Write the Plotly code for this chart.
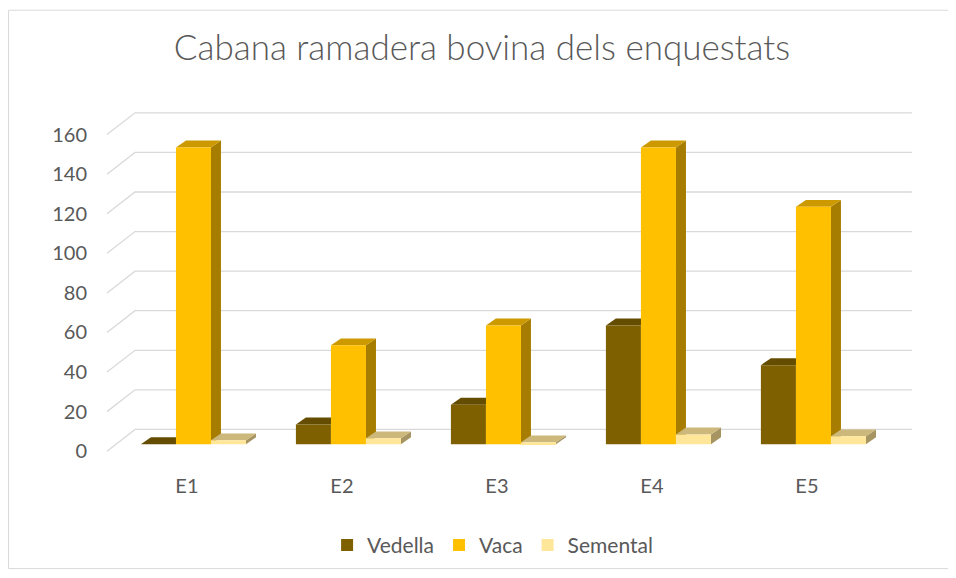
import plotly.graph_objects as go

# data
categories = ["E1", "E2", "E3", "E4", "E5"]
series_names = ["Vedella", "Vaca", "Semental"]
vedella = [0, 10, 20, 60, 40]
vaca = [150, 50, 60, 150, 120]
semental = [2, 3, 1, 5, 4]
y_ticks = [0, 20, 40, 60, 80, 100, 120, 140, 160]

values = [vedella, vaca, semental]
front_cols = ["#7F6000", "#FFC000", "#FFE699"]
top_cols = ["#644C00", "#CC9A00", "#CCB87A"]
side_cols = ["#513E00", "#A67D00", "#A69563"]

# fake 3D geometry (category units on x, value units on y)
bar_w = 0.226
offsets = [-0.297, -0.071, 0.155]   # left edge of each series relative to category
dx, dy = 0.0645, 3.5                 # bar depth projection
floor_back, floor_front = 7.5, -3.5  # back wall / front edge of the floor
grid_x = (-0.516, -0.335, 4.677)

fig = go.Figure()
shapes = []

# gridlines drawn on the back wall with the slanted side-wall segment
for v in y_ticks:
    shapes.append(dict(
        type="path", xref="x", yref="y", layer="below",
        path=f"M {grid_x[0]} {v + floor_front} L {grid_x[1]} {v + floor_back} L {grid_x[2]} {v + floor_back}",
        line=dict(color="#D9D9D9", width=1.3),
    ))

for s, name in enumerate(series_names):
    fig.add_trace(go.Bar(
        x=list(range(len(categories))), y=values[s], name=name,
        offset=offsets[s], width=bar_w,
        marker=dict(color=front_cols[s], line=dict(width=0)),
        hoverinfo="x+y+name",
    ))

# side and top faces, in drawing order (left to right)
for i in range(len(categories)):
    for s in range(3):
        v = values[s][i]
        x0 = i + offsets[s]
        x1 = x0 + bar_w
        shapes.append(dict(
            type="path", xref="x", yref="y", layer="below", line=dict(width=0),
            fillcolor=side_cols[s],
            path=f"M {x1} 0 L {x1} {v} L {x1 + dx} {v + dy} L {x1 + dx} {dy} Z",
        ))
        shapes.append(dict(
            type="path", xref="x", yref="y", layer="below", line=dict(width=0),
            fillcolor=top_cols[s],
            path=f"M {x0} {v} L {x0 + dx} {v + dy} L {x1 + dx} {v + dy} L {x1} {v} Z",
        ))

# chart border (figure is 948x570, page body adds 8px)
shapes.append(dict(type="rect", xref="paper", yref="paper",
                   x0=-0.1102, x1=1.0241, y0=-0.2838, y1=1.2459,
                   line=dict(color="#D9D9D9", width=1), layer="below"))

font_col = "#595959"
fig.update_layout(
    width=948, height=570,
    margin=dict(l=92, r=26, t=92, b=108),
    paper_bgcolor="white", plot_bgcolor="white",
    barmode="overlay",
    shapes=shapes,
    font=dict(family="Lato, Open Sans, sans-serif", color=font_col, size=20),
    title=dict(text="Cabana ramadera bovina dels enquestats",
               x=0.5, xanchor="center", y=0.93, yanchor="middle",
               font=dict(size=35, color=font_col, weight=300)),
    legend=dict(orientation="h", x=0.473, xanchor="center", y=-0.22, yanchor="middle",
                font=dict(size=21, color=font_col), traceorder="normal"),
    showlegend=True,
)
fig.update_xaxes(
    range=[-0.561, 4.794], tickvals=list(range(len(categories))), ticktext=categories,
    showgrid=False, zeroline=False, showline=False, ticks="",
    tickfont=dict(size=20, color=font_col), ticklabelstandoff=7,
)
fig.update_yaxes(
    range=[-10.47, 173.98], tickvals=[v + floor_front for v in y_ticks],
    ticktext=[str(v) for v in y_ticks],
    showgrid=False, zeroline=False, showline=False, ticks="",
    tickfont=dict(size=20, color=font_col), ticklabelstandoff=12,
)

fig.write_html("out.html")
